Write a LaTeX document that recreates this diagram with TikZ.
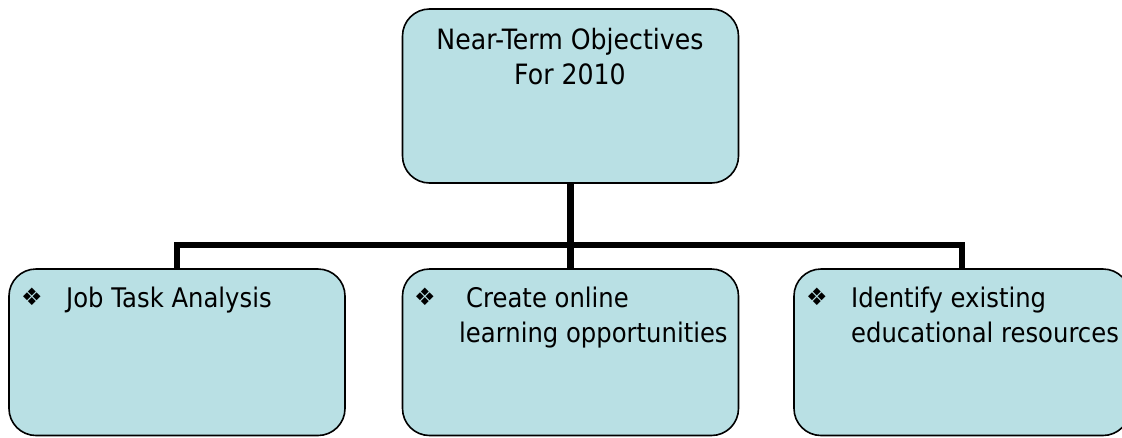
\documentclass[tikz,border=0pt]{standalone}
\usepackage{fontspec}
\setmainfont{DejaVu Sans}[FakeStretch=0.9]
\newfontfamily\symfont{DejaVu Sans}
\definecolor{boxfill}{RGB}{185,224,228}
\begin{document}
\begin{tikzpicture}[x=1pt,y=-1pt,
  objbox/.style={draw=black,line width=1.6pt,fill=boxfill,rounded corners=27pt,
    minimum width=336pt,inner sep=0pt,outer sep=0pt,anchor=north west},
  ghost/.style={objbox,draw=none,fill=none},
  conn/.style={line width=6.5pt,line join=miter,draw=black},
  lbl/.style={font=\fontsize{27}{35}\selectfont,inner sep=0pt,anchor=base west,align=left,text=black},
  bul/.style={font=\symfont\fontsize{24}{24}\selectfont,inner sep=0pt,anchor=base west}]
\useasboundingbox (0,0) rectangle (1122,437);
\begin{scope}
\clip (0,0) rectangle (1122,437);
% connectors first
\coordinate (bus) at (570.5,245);
\node[ghost,minimum height=174pt] (Tg) at (402.5,9) {};
\node[ghost,minimum height=166.5pt] (Lg) at (9,269) {};
\node[ghost,minimum height=166.5pt] (Mg) at (402.5,269) {};
\node[ghost,minimum height=166.5pt] (Rg) at (794,269) {};
\draw[conn] (Tg.south) -- (Mg.north);
\draw[conn] (Lg.north) |- (bus) -| (Rg.north);
% boxes
\node[objbox,minimum height=174pt] (T) at (402.5,9) {};
\node[objbox,minimum height=166.5pt] (L) at (9,269) {};
\node[objbox,minimum height=166.5pt] (M) at (402.5,269) {};
\node[objbox,minimum height=166.5pt] (R) at (794,269) {};
% texts
\node[lbl,anchor=base,align=center,font=\fontsize{28}{35}\selectfont] (Tt) at (570,84) {Near-Term Objectives\\For 2010};
\node[bul] (Lb) at (21,305) {❖};
\node[lbl] (Lt) at (66,307) {Job Task Analysis};
\node[bul] (Mb) at (414,305) {❖};
\node[lbl] (Mt) at (459,342) {\hspace{7pt}Create online\\learning opportunities};
\node[bul] (Rb) at (806,305) {❖};
\node[lbl] (Rt) at (851,342) {Identify existing\\educational resources};
\end{scope}
\end{tikzpicture}
\end{document}
